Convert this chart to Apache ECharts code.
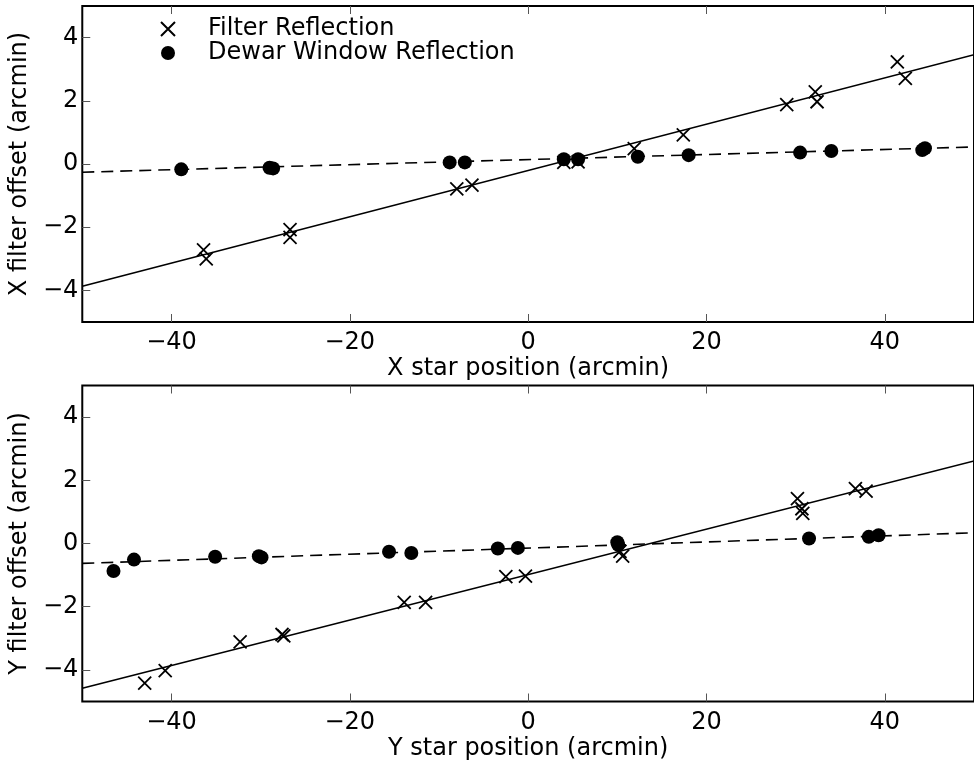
<!DOCTYPE html>
<html>
<head>
<meta charset="utf-8">
<script src="https://cdn.jsdelivr.net/npm/echarts@6/dist/echarts.min.js"></script>
<style>
    html, body { margin: 0; padding: 0; background: #fff; }
    #chart { width: 974px; height: 768px; }
</style>
</head>
<body>
<div id="chart"></div>
<script>
// tick positions (both panels)
let xTicks = [-40, -20, 0, 20, 40];
let yTicks = [-4, -2, 0, 2, 4];

// top panel: X star position vs X filter offset
let topFilterX = [-36.4, -36.1, -26.7, -26.7, -8.0, -6.3, 4.0, 5.6, 11.9, 17.4, 29.0, 32.2, 32.4, 41.4, 42.3];
let topFilterY = [-2.72, -3.0, -2.08, -2.32, -0.79, -0.67, 0.05, 0.07, 0.49, 0.92, 1.88, 2.28, 1.97, 3.23, 2.71];
let topWindowX = [-38.9, -29.0, -28.6, -8.8, -7.1, 4.0, 5.6, 12.3, 18.0, 30.5, 34.0, 44.2, 44.5];
let topWindowY = [-0.17, -0.12, -0.14, 0.05, 0.05, 0.15, 0.15, 0.23, 0.28, 0.36, 0.41, 0.44, 0.50];
let topFilterFit = [[-50, -3.87], [50, 3.46]];
let topWindowFit = [[-50, -0.26], [50, 0.54]];

// bottom panel: Y star position vs Y filter offset
let botFilterX = [-43.0, -40.7, -32.3, -27.6, -27.4, -13.9, -11.5, -2.5, -0.3, 10.3, 10.6, 30.2, 30.7, 30.8, 36.7, 37.9];
let botFilterY = [-4.42, -4.02, -3.11, -2.88, -2.92, -1.86, -1.86, -1.05, -1.03, -0.25, -0.40, 1.42, 1.10, 0.95, 1.74, 1.66];
let botWindowX = [-46.5, -44.2, -35.1, -30.2, -29.9, -15.6, -13.1, -3.4, -1.15, 10.0, 10.1, 31.5, 38.2, 39.3];
let botWindowY = [-0.87, -0.51, -0.42, -0.40, -0.44, -0.26, -0.30, -0.16, -0.14, 0.04, -0.04, 0.16, 0.21, 0.26];
let botFilterFit = [[-50, -4.58], [50, 2.61]];
let botWindowFit = [[-50, -0.63], [50, 0.34]];

const FONT = 'DejaVu Sans';
const FS = 24;
const CROSS = 'path://M0,0L10,10M10,0L0,10';

function zip(xs, ys) {
    return xs.map((x, i) => [x, ys[i]]);
}

function fmt(v) {
    return v < 0 ? '\u2212' + Math.abs(v) : String(v);
}

function tick(values) {
    return { show: true, inside: true, length: 8, lineStyle: { color: '#555', width: 1 }, customValues: values };
}

function xAxes(gridIndex, name) {
    return [{
        gridIndex: gridIndex,
        type: 'value',
        min: -50, max: 50,
        position: 'bottom',
        name: name,
        nameLocation: 'middle',
        nameGap: 35,
        nameTextStyle: { fontFamily: FONT, fontSize: FS, color: '#000' },
        axisLine: { show: false, onZero: false },
        axisTick: tick(xTicks),
        axisLabel: { fontFamily: FONT, fontSize: FS, color: '#000', margin: 9, formatter: fmt, customValues: xTicks },
        splitLine: { show: false }
    }, {
        gridIndex: gridIndex,
        type: 'value',
        min: -50, max: 50,
        position: 'top',
        axisLine: { show: false, onZero: false },
        axisTick: tick(xTicks),
        axisLabel: { show: false },
        splitLine: { show: false }
    }];
}

function yAxis(gridIndex, name) {
    return {
        gridIndex: gridIndex,
        type: 'value',
        min: -5, max: 5,
        position: 'left',
        name: name,
        nameLocation: 'middle',
        nameGap: 47,
        nameTextStyle: { fontFamily: FONT, fontSize: FS, color: '#000' },
        axisLine: { show: false, onZero: false },
        axisTick: tick(yTicks),
        axisLabel: { fontFamily: FONT, fontSize: FS, color: '#000', margin: 4, formatter: fmt, customValues: yTicks },
        splitLine: { show: false }
    };
}

function crossSeries(ax, data) {
    return {
        name: 'Filter Reflection',
        type: 'scatter',
        xAxisIndex: ax, yAxisIndex: ax / 2,
        data: data,
        symbol: CROSS,
        symbolSize: 13,
        itemStyle: { color: '#000', borderColor: '#000', borderWidth: 1.8, opacity: 1 },
        z: 3
    };
}

function dotSeries(ax, data) {
    return {
        name: 'Dewar Window Reflection',
        type: 'scatter',
        xAxisIndex: ax, yAxisIndex: ax / 2,
        data: data,
        symbol: 'circle',
        symbolSize: 14,
        itemStyle: { color: '#000', opacity: 1 },
        z: 4
    };
}

function fitSeries(ax, data, dashed) {
    return {
        type: 'line',
        xAxisIndex: ax, yAxisIndex: ax / 2,
        data: data,
        showSymbol: false,
        symbol: 'none',
        silent: true,
        lineStyle: { color: '#000', width: 1.6, type: dashed ? [12, 7] : 'solid' },
        z: 5
    };
}

let chart = echarts.init(document.getElementById('chart'), null, { renderer: 'canvas' });

let option = {
    backgroundColor: '#fff',
    animation: false,
    textStyle: { fontFamily: FONT },
    grid: [
        { left: 81.5, top: 6, width: 899, height: 316, show: true, borderColor: '#000', borderWidth: 2, backgroundColor: 'transparent' },
        { left: 81.5, top: 385.5, width: 899, height: 316, show: true, borderColor: '#000', borderWidth: 2, backgroundColor: 'transparent' }
    ],
    legend: {
        data: ['Filter Reflection', 'Dewar Window Reflection'],
        orient: 'vertical',
        left: 155, top: 12,
        itemWidth: 14, itemHeight: 14,
        itemGap: 0,
        selectedMode: false,
        textStyle: { fontFamily: FONT, fontSize: FS, color: '#000', lineHeight: 24, padding: [0, 0, 0, 28] }
    },
    xAxis: xAxes(0, 'X star position (arcmin)').concat(xAxes(1, 'Y star position (arcmin)')),
    yAxis: [yAxis(0, 'X filter offset (arcmin)'), yAxis(1, 'Y filter offset (arcmin)')],
    series: [
        crossSeries(0, zip(topFilterX, topFilterY)),
        dotSeries(0, zip(topWindowX, topWindowY)),
        fitSeries(0, topFilterFit, false),
        fitSeries(0, topWindowFit, true),
        crossSeries(2, zip(botFilterX, botFilterY)),
        dotSeries(2, zip(botWindowX, botWindowY)),
        fitSeries(2, botFilterFit, false),
        fitSeries(2, botWindowFit, true)
    ]
};

chart.setOption(option);
</script>
</body>
</html>
